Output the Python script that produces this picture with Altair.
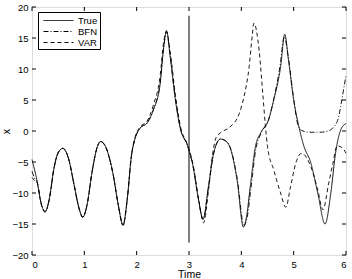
import altair as alt
import pandas as pd

# ---------------- data ----------------
t_true = [0.00,0.10,0.17,0.25,0.33,0.42,0.50,0.59,0.70,0.80,0.90,0.97,1.05,1.15,1.25,1.31,1.42,1.55,1.65,1.74,
          1.82,1.90,1.97,2.07,2.20,2.32,2.45,2.51,2.57,2.64,2.74,2.84,2.97,3.08,3.18,3.27,3.37,3.47,3.60,3.70,
          3.79,3.92,4.04,4.10,4.17,4.27,4.37,4.52,4.62,4.75,4.83,4.90,5.00,5.10,5.19,5.33,5.46,5.60,5.71,5.80,
          5.90,6.00]
x_true = [-4.6,-8.2,-11.5,-13.0,-11.0,-6.0,-3.5,-2.8,-4.5,-8.5,-12.5,-13.9,-12.0,-6.5,-2.5,-1.7,-2.8,-7.0,-12.0,-15.2,
          -11.0,-4.0,-1.2,0.5,1.3,3.4,7.7,13.0,16.2,12.0,5.0,0.2,-2.3,-5.8,-11.0,-14.2,-9.0,-3.6,-1.3,-1.6,
          -2.8,-8.0,-15.5,-13.8,-9.0,-2.5,-0.3,1.8,5.0,10.3,15.6,11.5,5.0,0.7,-2.3,-5.2,-10.0,-15.0,-10.0,-3.6,
          0.2,1.2]

t_bfn = [0.00,0.05,0.10,0.17,0.25,0.33,0.42,0.50,0.59,0.70,0.80,0.90,0.97,1.05,1.15,1.25,1.31,1.42,1.55,1.65,1.74,
         1.82,1.90,1.97,2.07,2.20,2.32,2.45,2.51,2.57,2.64,2.74,2.84,2.97,3.08,3.18,3.27,3.37,3.47,3.60,3.70,
         3.79,3.92,4.05,4.11,4.18,4.28,4.38,4.52,4.62,4.74,4.82,4.90,5.00,5.08,5.15,5.30,5.50,5.65,5.75,5.85,
         5.92,5.96,6.00]
x_bfn = [-6.5,-7.6,-8.3,-11.5,-13.0,-11.0,-6.0,-3.5,-2.8,-4.5,-8.5,-12.5,-13.9,-12.0,-6.5,-2.5,-1.7,-2.8,-7.0,-12.0,-15.2,
         -11.0,-4.0,-1.2,0.5,1.3,3.5,7.9,13.0,16.0,12.2,5.2,0.3,-2.3,-5.8,-11.0,-14.3,-9.2,-3.7,-1.3,-1.6,
         -2.7,-7.6,-15.2,-14.0,-9.5,-2.8,-0.3,1.8,5.2,10.5,15.2,11.8,5.2,1.0,0.1,-0.2,-0.2,0.0,0.5,2.0,
         5.0,7.0,9.0]

t_var = [0.00,0.05,0.10,0.17,0.25,0.33,0.42,0.50,0.59,0.70,0.80,0.90,0.97,1.05,1.15,1.25,1.31,1.42,1.55,1.65,1.74,
         1.82,1.90,1.97,2.07,2.20,2.32,2.45,2.51,2.57,2.64,2.74,2.84,2.97,3.08,3.18,3.28,3.37,3.45,3.52,3.60,
         3.79,3.95,4.05,4.15,4.21,4.24,4.34,4.41,4.46,4.50,4.62,4.75,4.85,4.94,5.04,5.15,5.33,5.46,5.56,5.67,
         5.75,5.83,5.94,6.00]
x_var = [-7.5,-8.0,-8.4,-11.6,-13.1,-11.0,-6.0,-3.5,-2.8,-4.5,-8.5,-12.5,-13.9,-12.0,-6.5,-2.5,-1.7,-2.8,-7.0,-12.0,-15.2,
         -11.0,-4.0,-1.0,0.7,1.6,4.2,9.0,14.0,16.0,12.8,5.8,0.6,-2.2,-5.5,-10.8,-14.8,-9.8,-3.8,-1.0,-0.3,
         0.7,2.6,5.5,10.4,15.5,17.4,13.0,6.0,0.8,-2.5,-6.3,-10.0,-12.3,-9.0,-5.2,-3.6,-5.8,-9.5,-12.7,-8.4,
         -5.2,-2.4,-2.8,-3.6]

series_names = ["True", "BFN", "VAR"]
x_ticks = [0, 1, 2, 3, 4, 5, 6]
y_ticks = [-20, -15, -10, -5, 0, 5, 10, 15, 20]
x_domain = [0, 6]
y_domain = [-20, 20]
marker_time = [3]
marker_span = [-18.0, 18.6]

# ---------------- layout ----------------
W, H = 314, 248
TICK_PX = 4
dx = TICK_PX * (x_domain[1] - x_domain[0]) / W
dy = TICK_PX * (y_domain[1] - y_domain[0]) / H
FONT = "Liberation Sans"

rows = []
for name, ts, xs in [("True", t_true, x_true), ("BFN", t_bfn, x_bfn), ("VAR", t_var, x_var)]:
    for i, (t, v) in enumerate(zip(ts, xs)):
        rows.append({"series": name, "t": t, "x": v, "i": i})
df = pd.DataFrame(rows)

xs = alt.Scale(domain=x_domain, nice=False, zero=False)
ys = alt.Scale(domain=y_domain, nice=False, zero=False)

x_axis = alt.Axis(values=x_ticks, tickSize=0, domain=False, grid=False, labelFontSize=9.5,
                  labelPadding=4, titleFontSize=10.5, titlePadding=1, labelFont=FONT,
                  titleFont=FONT, titleFontWeight="normal", labelColor="black", titleColor="black",
                  labelOverlap=False)
y_axis = alt.Axis(values=y_ticks, tickSize=0, domain=False, grid=False, labelFontSize=9.5,
                  labelPadding=4, titleFontSize=10.5, labelFont=FONT,
                  titleFont=FONT, titleFontWeight="normal", labelColor="black", titleColor="black",
                  labelOverlap=False, titleX=-21, titleY=H / 2, titleAngle=270,
                  titleBaseline="bottom", titleAlign="center")


def X(field):
    return alt.X(field, scale=xs, axis=x_axis, title="Time")


def Y(field):
    return alt.Y(field, scale=ys, axis=y_axis, title="x")


lines = alt.Chart(df).mark_line(strokeWidth=0.9, color="black", interpolate="monotone").encode(
    x=X("t:Q"),
    y=Y("x:Q"),
    strokeDash=alt.StrokeDash("series:N",
        scale=alt.Scale(domain=series_names, range=[[1, 0], [5, 2, 1, 2], [4, 3]]),
        legend=alt.Legend(title=None, orient="none", legendX=6, legendY=5, strokeColor="black",
                          fillColor="white", padding=2, symbolType="M-0.5,0L4.5,0", symbolSize=144,
                          symbolStrokeWidth=1, symbolStrokeColor="black", labelFontSize=9.5,
                          labelFont=FONT, labelColor="black", rowPadding=-1, labelOffset=25)),
    order="i:Q",
    detail="series:N",
)

vline = alt.Chart(pd.DataFrame({"t": marker_time, "y1": [marker_span[0]], "y2": [marker_span[1]]})).mark_rule(
    color="black", strokeWidth=1).encode(x=X("t:Q"), y=Y("y1:Q"), y2="y2:Q")

xt = pd.DataFrame({"t": x_ticks})
yt = pd.DataFrame({"v": y_ticks})
tick_bottom = alt.Chart(xt).transform_calculate(a=str(y_domain[0]), b=str(y_domain[0] + dy)).mark_rule(
    color="black", strokeWidth=1).encode(x=X("t:Q"), y=Y("a:Q"), y2="b:Q")
tick_top = alt.Chart(xt).transform_calculate(a=str(y_domain[1]), b=str(y_domain[1] - dy)).mark_rule(
    color="black", strokeWidth=1).encode(x=X("t:Q"), y=Y("a:Q"), y2="b:Q")
tick_left = alt.Chart(yt).transform_calculate(a=str(x_domain[0]), b=str(x_domain[0] + dx)).mark_rule(
    color="black", strokeWidth=1).encode(y=Y("v:Q"), x=X("a:Q"), x2="b:Q")
tick_right = alt.Chart(yt).transform_calculate(a=str(x_domain[1]), b=str(x_domain[1] - dx)).mark_rule(
    color="black", strokeWidth=1).encode(y=Y("v:Q"), x=X("a:Q"), x2="b:Q")

chart = alt.layer(lines, vline, tick_bottom, tick_top, tick_left, tick_right).properties(
    width=W, height=H,
    autosize=alt.AutoSizeParams(type="none"),
    padding={"left": 32, "top": 7, "right": 6, "bottom": 24},
).configure_view(stroke="black", strokeWidth=1).configure(background="white")

chart.save("out.html", embed_options={"renderer": "svg", "actions": False})
